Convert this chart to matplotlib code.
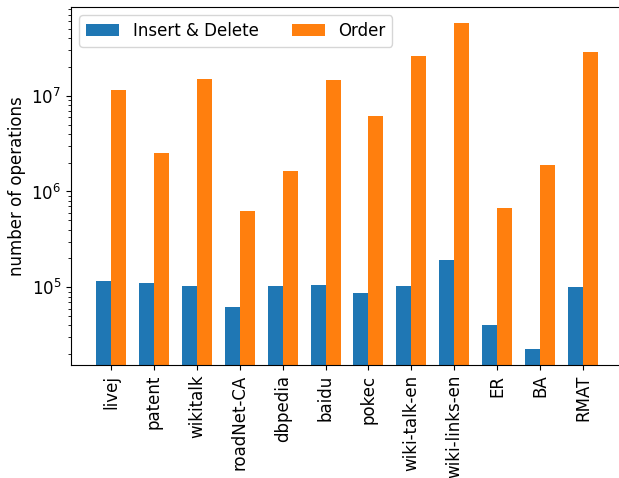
import matplotlib
matplotlib.use("Agg")
import matplotlib.pyplot as plt
import numpy as np

categories = ["livej", "patent", "wikitalk", "roadNet-CA", "dbpedia", "baidu",
              "pokec", "wiki-talk-en", "wiki-links-en", "ER", "BA", "RMAT"]
insert_delete = [1.16e5, 1.11e5, 1.03e5, 6.2e4, 1.03e5, 1.06e5,
                 8.7e4, 1.03e5, 1.93e5, 4.04e4, 2.27e4, 1.0e5]
order = [1.15e7, 2.53e6, 1.49e7, 6.3e5, 1.64e6, 1.46e7,
         6.17e6, 2.6e7, 5.74e7, 6.76e5, 1.9e6, 2.86e7]

plt.rcParams['font.size'] = 12
fig = plt.figure(figsize=(6.19, 4.78), dpi=100)
ax = fig.add_axes([71/619, 1 - 365/478, (623 - 71)/619, (365 - 7)/478])

x = np.arange(len(categories))
w = 0.35
ax.bar(x - w/2, insert_delete, w, label="Insert & Delete", color="#1f77b4")
ax.bar(x + w/2, order, w, label="Order", color="#ff7f0e")
ax.set_yscale("log")
ax.set_ylim(1.545e4, 8.43e7)
ax.set_xlim(-0.935, len(categories) - 1 + 0.935)
ax.set_xticks(x)
ax.set_xticklabels(categories, rotation=90)
ax.set_ylabel("number of operations")
ax.legend(loc="upper left", ncol=2)

fig.savefig("out.png", dpi=100)
